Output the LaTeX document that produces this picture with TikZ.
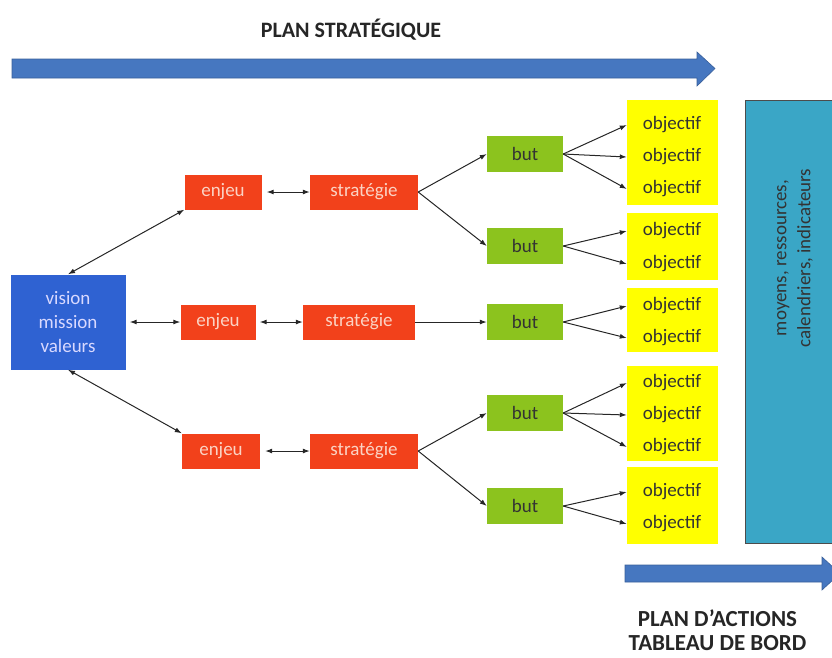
\documentclass[tikz,border=0pt]{standalone}
\usepackage{fontspec}
\setmainfont{Carlito}
\usetikzlibrary{arrows.meta,shapes.arrows}
\definecolor{visblue}{HTML}{2F62D2}
\definecolor{redbox}{HTML}{F2411B}
\definecolor{greenbox}{HTML}{8CC31E}
\definecolor{yellowbox}{HTML}{FFFF00}
\definecolor{tealbox}{HTML}{3AA6C6}
\definecolor{arrowblue}{HTML}{4677C0}
\definecolor{txtred}{HTML}{FBD3C4}
\tikzset{
  redb/.style={fill=redbox, text=txtred, font=\fontsize{19}{22}\selectfont, inner sep=0pt, minimum height=35pt},
  greenb/.style={fill=greenbox, text=black!80, font=\fontsize{19}{22}\selectfont, minimum width=76pt, minimum height=36pt, inner sep=0pt},
  yel/.style={fill=yellowbox, minimum width=91pt},
  obj/.style={text=black!80, font=\fontsize{19}{22}\selectfont, inner sep=0pt},
  conn/.style={draw=black!85, line width=1pt, -{Latex[length=7pt,width=5pt]}},
  dconn/.style={draw=black!85, line width=1pt, {Latex[length=7pt,width=5pt]}-{Latex[length=7pt,width=5pt]}},
  bigarrow/.style={fill=arrowblue, draw=arrowblue!80!black, line width=0.6pt},
  title/.style={font=\bfseries\fontsize{22}{25}\selectfont, text=black!85}
}
\begin{document}
\begin{tikzpicture}[x=1pt,y=-1pt]
\useasboundingbox (0,0) rectangle (832,657);
\clip (0,0) rectangle (832,657);
% top arrow
\path[bigarrow] (12,59) -- (697,59) -- (697,52) -- (715,68.5) -- (697,86) -- (697,78) -- (12,78) -- cycle;
\node[title] (t1) at (351,30) {PLAN STRATÉGIQUE};
% bottom arrow
\path[bigarrow] (625,565) -- (822,565) -- (822,557) -- (840,573.5) -- (822,590) -- (822,582) -- (625,582) -- cycle;
\node[title, align=center, inner sep=1pt, font=\bfseries\fontsize{23}{24}\selectfont] (t2) at (717.5,630) {PLAN D’ACTIONS\\TABLEAU DE BORD};

% vision box
\node[fill=visblue, text=white!85!blue, minimum width=115pt, minimum height=95pt, align=center, font=\fontsize{19}{24}\selectfont] (vis) at (68,322) {vision\\mission\\valeurs};

% red boxes
\node[redb, minimum width=77pt] (e1) at (223,192) {enjeu};
\node[redb, minimum width=108pt] (s1) at (364,192) {stratégie};
\node[redb, minimum width=75pt] (e2) at (218,322) {enjeu};
\node[redb, minimum width=112pt] (s2) at (359,322) {stratégie};
\node[redb, minimum width=78pt] (e3) at (221,451) {enjeu};
\node[redb, minimum width=108pt] (s3) at (364,451) {stratégie};

% green boxes
\node[greenb] (b1) at (525,154) {but};
\node[greenb] (b2) at (525,246) {but};
\node[greenb] (b3) at (525,322) {but};
\node[greenb] (b4) at (525,413) {but};
\node[greenb] (b5) at (525,506) {but};

% yellow groups
\node[yel, minimum height=105pt] (y1) at (672.5,152.5) {};
\node[yel, minimum height=67pt] (y2) at (672.5,246) {};
\node[yel, minimum height=64pt] (y3) at (672.5,320) {};
\node[yel, minimum height=95pt] (y4) at (672.5,413) {};
\node[yel, minimum height=77pt] (y5) at (672.5,505.5) {};

\node[obj] (o11) at (672,125) {objectif};
\node[obj] (o12) at (672,157) {objectif};
\node[obj] (o13) at (672,189) {objectif};
\node[obj] (o21) at (672,231) {objectif};
\node[obj] (o22) at (672,264) {objectif};
\node[obj] (o31) at (672,306) {objectif};
\node[obj] (o32) at (672,338) {objectif};
\node[obj] (o41) at (672,383) {objectif};
\node[obj] (o42) at (672,415) {objectif};
\node[obj] (o43) at (672,447) {objectif};
\node[obj] (o51) at (672,492) {objectif};
\node[obj] (o52) at (672,524) {objectif};

% teal box
\node[fill=tealbox, draw=black!70, line width=0.8pt, minimum width=90pt, minimum height=443pt, anchor=north west] (tb) at (745,100) {};
\node[rotate=90, align=center, text=black!80, font=\fontsize{19}{24}\selectfont] (tbt) at (795,258) {moyens, ressources,\\calendriers, indicateurs};

% connectors
\draw[dconn] (vis.north) -- (e1.south west);
\draw[dconn] (vis.south) -- (e3.north west);
\draw[dconn] (vis.east) ++(4,0) coordinate (ve) (ve) -- (e2.west);
\draw[dconn] (e1.east) ++(5,0) coordinate (e1e) (e1e) -- (s1.west);
\draw[dconn] (e2.east) ++(4,0) coordinate (e2e) (e2e) -- (s2.west);
\draw[dconn] (e3.east) ++(5,0) coordinate (e3e) (e3e) -- (s3.west);

\draw[conn] (s1.east) -- (b1.west);
\draw[conn] (s1.east) -- (b2.west);
\draw[conn] (s2.east) -- (b3.west);
\draw[conn] (s3.east) -- (b4.west);
\draw[conn] (s3.east) -- (b5.west);

\foreach \b/\o in {b1/o11,b1/o12,b1/o13,b2/o21,b2/o22,b3/o31,b3/o32,b4/o41,b4/o42,b4/o43,b5/o51,b5/o52}{
  \draw[conn] (\b.east) -- (y1.west |- \o.center);
}
\end{tikzpicture}
\end{document}
